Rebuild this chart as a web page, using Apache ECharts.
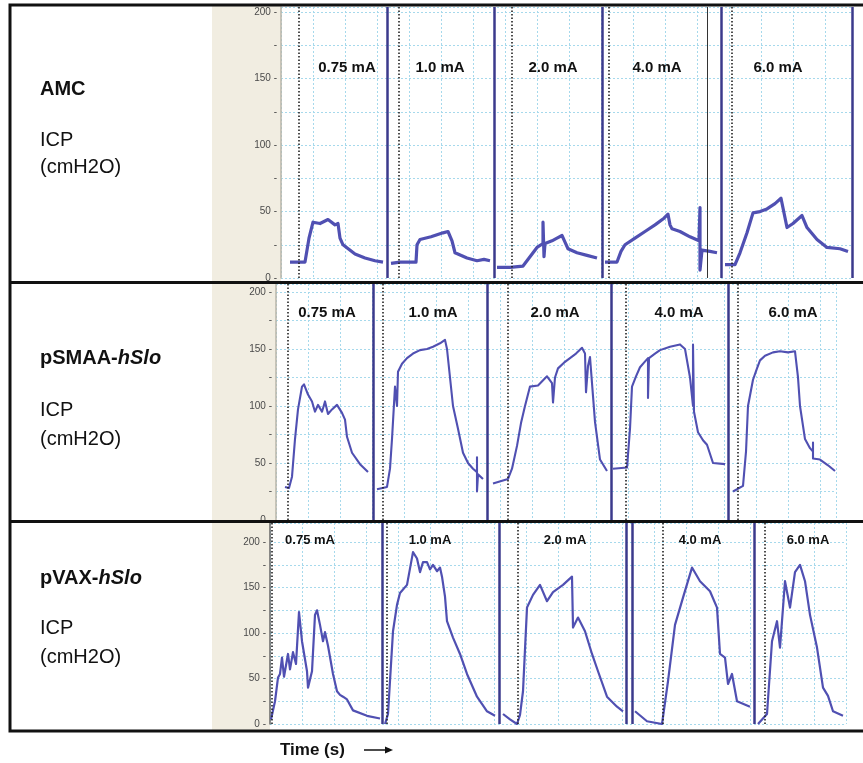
<!DOCTYPE html>
<html lang="en">
<head>
    <meta charset="UTF-8">
    <title>ICP traces</title>
    <script src="https://cdn.jsdelivr.net/npm/echarts@6/dist/echarts.min.js"></script>
    <style>
        html, body { margin: 0; padding: 0; background: #fff; }
        #chart { width: 863px; height: 763px; }
    </style>
</head>
<body>
<div id="chart"></div>
<script>
    // stimulation currents, same order in every row
    let doses = ['0.75 mA', '1.0 mA', '2.0 mA', '4.0 mA', '6.0 mA'];

    // AMC row: [time, ICP cmH2O]
    let amc075 = [[9,12],[24,12],[28,30],[32,42],[39,41],[47,44],[54,40],[57,41],[59,30],[62,25],[74,18],[84,15],[94,13],[102,12]];
    let amc10 = [[110,11],[119,12],[135,12],[136,25],[139,29],[150,31],[162,34],[167,35],[171,28],[174,19],[186,15],[196,13],[203,14],[209,13]];
    let amc20 = [[216,8],[229,8],[242,9],[249,16],[256,23],[262,26],[262,42],[263,16],[264,26],[271,28],[276,30],[281,32],[284,27],[287,22],[296,19],[306,17],[316,15]];
    let amc40 = [[324,12],[336,12],[340,20],[344,25],[354,30],[364,35],[374,40],[383,45],[387,48],[389,40],[391,37],[399,35],[409,31],[418,28],[419,53],[419,6],[421,21],[429,20],[436,19]];
    let amc60 = [[444,10],[454,10],[459,19],[466,34],[472,49],[479,50],[486,52],[494,56],[500,60],[502,61],[506,38],[512,41],[521,47],[526,38],[536,29],[546,23],[559,22],[567,20]];
    let amcOnset = [18, 118, 231, 328, 451];
    let amcBorder = [106, 213, 321, 440, 571];
    let amcMarker = [426];

    // pSMAA-hSlo row
    let sma075 = [[9,29],[13,28],[16,38],[19,71],[22,97],[26,117],[28,119],[32,110],[36,104],[39,95],[42,101],[46,95],[49,104],[52,93],[56,97],[61,101],[66,94],[69,88],[71,73],[76,59],[84,49],[92,42]];
    let sma10 = [[101,27],[111,29],[114,45],[116,71],[119,117],[121,100],[122,130],[126,137],[131,142],[137,146],[144,149],[151,150],[157,152],[164,155],[169,158],[171,150],[174,125],[177,100],[182,80],[187,59],[192,50],[197,45],[201,42],[201,55],[201,25],[202,40],[207,36]];
    let sma20 = [[217,32],[232,36],[236,45],[241,65],[245,85],[249,100],[254,117],[262,118],[271,126],[276,120],[277,103],[279,125],[282,133],[288,138],[294,142],[300,146],[306,151],[309,146],[310,112],[312,135],[314,143],[316,120],[319,86],[324,53],[331,43]];
    let sma40 = [[337,45],[351,46],[354,80],[356,117],[360,126],[364,134],[368,138],[372,142],[372,107],[373,142],[379,146],[384,149],[394,152],[404,154],[409,150],[414,125],[417,100],[417,154],[418,95],[422,77],[427,70],[431,66],[437,50],[449,49]];
    let sma60 = [[457,25],[467,30],[470,60],[472,100],[477,123],[481,133],[484,140],[489,144],[497,147],[504,148],[512,147],[519,148],[522,125],[524,100],[529,71],[534,63],[537,60],[537,68],[537,54],[544,53],[552,48],[559,43]];
    let smaOnset = [12, 107, 232, 350, 462];
    let smaBorder = [97, 211, 335, 452];

    // pVAX-hSlo row
    let vax075 = [[1,5],[5,25],[8,51],[10,55],[12,73],[14,52],[18,77],[20,60],[23,79],[26,66],[29,123],[32,91],[34,92],[37,58],[38,40],[42,58],[45,120],[47,125],[50,109],[53,91],[55,101],[58,86],[63,55],[67,36],[70,32],[73,30],[77,27],[83,15],[97,9],[110,6]];
    let vax10 = [[115,0],[118,11],[123,102],[127,131],[130,144],[137,153],[143,189],[147,182],[150,167],[153,178],[157,178],[160,170],[163,175],[167,168],[170,172],[172,162],[175,140],[177,113],[183,95],[190,77],[197,55],[207,30],[217,14],[225,9]];
    let vax20 = [[233,11],[240,5],[247,0],[250,10],[253,36],[257,128],[263,142],[270,153],[277,135],[283,145],[293,153],[302,162],[303,106],[308,117],[315,102],[322,77],[328,58],[337,30],[347,19],[353,14]];
    let vax40 = [[365,14],[377,3],[392,0],[398,47],[405,109],[413,139],[422,172],[430,157],[440,146],[447,128],[450,77],[455,73],[458,44],[462,55],[467,25],[480,19]];
    let vax60 = [[488,0],[497,11],[502,91],[507,113],[510,84],[515,157],[520,128],[525,167],[530,175],[535,157],[540,120],[547,84],[553,40],[558,31],[563,14],[573,9]];
    let vaxOnset = [2, 117, 248, 393, 495];
    let vaxBorder = [112, 229, 356, 362, 484];

    let rows = [
        {
            traces: [amc075, amc10, amc20, amc40, amc60], onset: amcOnset, border: amcBorder, marker: amcMarker,
            left: 281, top: 7, width: 571, height: 271, yMax: 204, lw: 3.2,
            labelT: [66, 159, 272, 376, 497], labelV: 158, labelSize: 15, axisColor: '#b9b4a8'
        },
        {
            traces: [sma075, sma10, sma20, sma40, sma60], onset: smaOnset, border: smaBorder, marker: [],
            left: 276, top: 284, width: 560, height: 236, yMax: 207, lw: 2.1,
            labelT: [51, 157, 279, 403, 517], labelV: 182, labelSize: 15, axisColor: '#b9b4a8'
        },
        {
            traces: [vax075, vax10, vax20, vax40, vax60], onset: vaxOnset, border: vaxBorder, marker: [],
            left: 270, top: 523, width: 576, height: 201, yMax: 221, lw: 2.2,
            labelT: [40, 160, 295, 430, 538], labelV: 202, labelSize: 13, axisColor: '#666'
        }
    ];

    let gridColor = '#a6d9ec';
    let traceColor = '#5050b2';
    let borderColor = '#3b3a8c';

    let grids = [], xAxes = [], yAxes = [], series = [];
    rows.forEach(function (row, i) {
        grids.push({left: row.left, top: row.top, width: row.width, height: row.height, containLabel: false});
        xAxes.push({
            type: 'value', gridIndex: i, min: 0, max: row.width, interval: 32,
            axisLine: {show: false}, axisTick: {show: false}, axisLabel: {show: false},
            splitLine: {show: true, lineStyle: {color: gridColor, type: [2, 2], width: 1}}
        });
        yAxes.push({
            type: 'value', gridIndex: i, min: 0, max: row.yMax, interval: 25,
            axisLine: {show: true, lineStyle: {color: row.axisColor, width: 1.5}},
            axisTick: {show: false},
            axisLabel: {
                show: true, margin: 4, color: '#4a4a4a', fontSize: 10, fontFamily: 'Liberation Sans, Arial',
                showMaxLabel: false,
                formatter: function (v) {
                    if (v % 50 === 0) return v + ' -';
                    if (v % 25 === 0) return '-';
                    return '';
                }
            },
            splitLine: {show: true, lineStyle: {color: gridColor, type: [2, 2], width: 1}}
        });
        let marks = [];
        row.border.forEach(function (t) {
            marks.push({xAxis: t, lineStyle: {color: borderColor, width: 2.5, type: 'solid'}});
        });
        row.onset.forEach(function (t) {
            marks.push({xAxis: t, lineStyle: {color: '#222', width: 1.6, type: [1.5, 2]}});
        });
        row.marker.forEach(function (t) {
            marks.push({xAxis: t, lineStyle: {color: '#333', width: 1, type: 'solid'}});
        });
        row.traces.forEach(function (data, k) {
            let s = {
                type: 'line', xAxisIndex: i, yAxisIndex: i, data: data,
                showSymbol: false, symbol: 'none', animation: false, z: 3,
                lineStyle: {color: traceColor, width: row.lw, join: 'round'}
            };
            if (k === 0) {
                s.markLine = {silent: true, symbol: 'none', animation: false, label: {show: false}, data: marks};
            }
            series.push(s);
        });
        series.push({
            type: 'scatter', xAxisIndex: i, yAxisIndex: i, animation: false, silent: true, z: 5,
            symbol: 'rect', symbolSize: 1, itemStyle: {color: 'rgba(255,255,255,0)'},
            label: {
                show: true, position: 'inside', formatter: '{b}', color: '#111', opacity: 1,
                textBorderWidth: 0,
                fontSize: row.labelSize, fontWeight: 'bold', fontFamily: 'Liberation Sans, Arial'
            },
            data: doses.map(function (d, k) {
                return {name: d, value: [row.labelT[k], row.labelV]};
            })
        });
    });

    let font = 'Liberation Sans, Arial';
    let sideText = function (y, text, bold) {
        return {
            type: 'text', x: 40, y: y, z: 50,
            style: {text: text, fontSize: 20, fontWeight: bold ? 'bold' : 'normal', fontFamily: font, fill: '#111', verticalAlign: 'middle'}
        };
    };
    let richName = function (y, plain, ital) {
        return {
            type: 'text', x: 40, y: y, z: 50,
            style: {
                text: '{a|' + plain + '}{b|' + ital + '}', verticalAlign: 'middle',
                rich: {
                    a: {fontSize: 20, fontWeight: 'bold', fontFamily: font, fill: '#111'},
                    b: {fontSize: 20, fontWeight: 'bold', fontStyle: 'italic', fontFamily: font, fill: '#111'}
                }
            }
        };
    };

    let beige = '#f1ede1';
    let graphic = [
        {type: 'rect', z: -10, shape: {x: 212, y: 6, width: 69, height: 276}, style: {fill: beige}},
        {type: 'rect', z: -10, shape: {x: 212, y: 284, width: 64, height: 237}, style: {fill: beige}},
        {type: 'rect', z: -10, shape: {x: 212, y: 523, width: 58, height: 208}, style: {fill: beige}},
        {type: 'rect', z: 100, shape: {x: 10, y: 5, width: 870, height: 726}, style: {fill: 'none', stroke: '#111', lineWidth: 3}},
        {type: 'line', z: 100, shape: {x1: 10, y1: 282.5, x2: 863, y2: 282.5}, style: {stroke: '#111', lineWidth: 3}},
        {type: 'line', z: 100, shape: {x1: 10, y1: 521.5, x2: 863, y2: 521.5}, style: {stroke: '#111', lineWidth: 3}},
        sideText(89, 'AMC', true),
        sideText(140, 'ICP', false),
        sideText(167, '(cmH2O)', false),
        richName(358, 'pSMAA-', 'hSlo'),
        sideText(410, 'ICP', false),
        sideText(439, '(cmH2O)', false),
        richName(578, 'pVAX-', 'hSlo'),
        sideText(628, 'ICP', false),
        sideText(657, '(cmH2O)', false),
        {
            type: 'text', x: 280, y: 750, z: 50,
            style: {text: 'Time (s)', fontSize: 17, fontWeight: 'bold', fontFamily: font, fill: '#111', verticalAlign: 'middle'}
        },
        {type: 'line', z: 50, shape: {x1: 364, y1: 750, x2: 388, y2: 750}, style: {stroke: '#111', lineWidth: 1.5}},
        {type: 'polygon', z: 50, shape: {points: [[393, 750], [385, 746.5], [385, 753.5]]}, style: {fill: '#111'}}
    ];

    let myChart = echarts.init(document.getElementById('chart'), null, {renderer: 'canvas'});
    myChart.setOption({
        animation: false,
        backgroundColor: '#fff',
        grid: grids,
        xAxis: xAxes,
        yAxis: yAxes,
        series: series,
        graphic: graphic
    });
</script>
</body>
</html>
